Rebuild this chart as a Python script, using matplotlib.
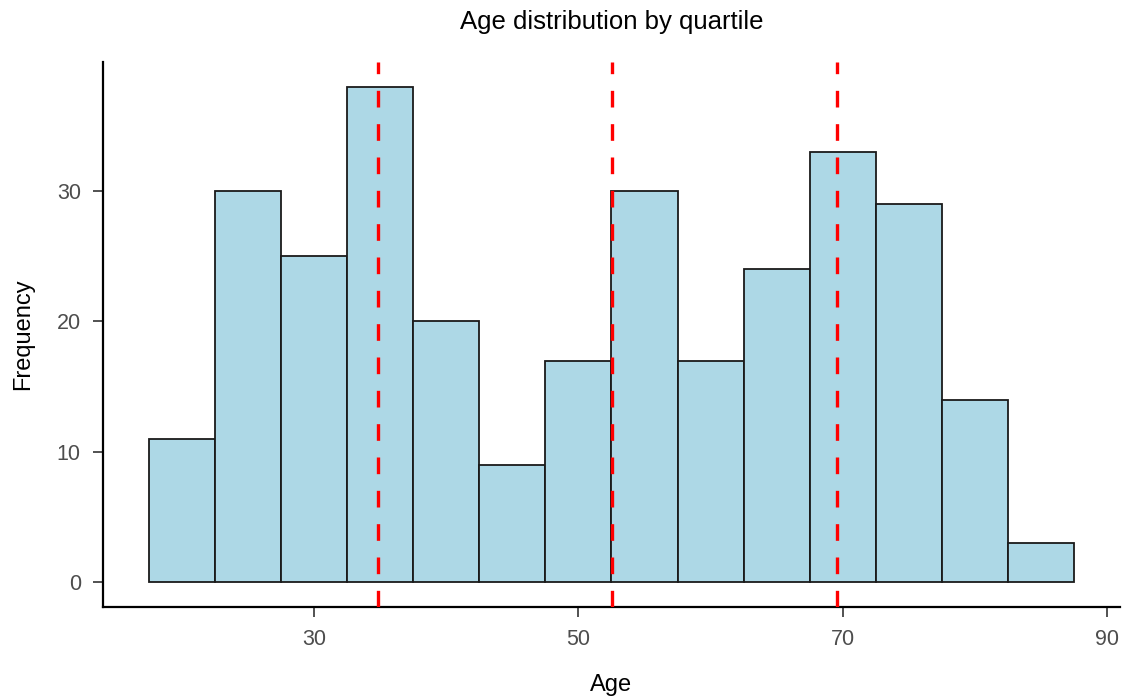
import matplotlib.pyplot as plt

plt.rcParams['font.family'] = ['Liberation Sans', 'DejaVu Sans']

# 直方图数据（每组宽度 5）
bin_centers = [20, 25, 30, 35, 40, 45, 50, 55, 60, 65, 70, 75, 80, 85]
counts = [11, 30, 25, 38, 20, 9, 17, 30, 17, 24, 33, 29, 14, 3]
bin_width = 5
quartiles = [34.8, 52.55, 69.55]

fig = plt.figure(figsize=(11.23, 6.98), dpi=100)
ax = fig.add_axes([0.0917, 0.1304, 0.9056, 0.7808])

ax.bar(bin_centers, counts, width=bin_width, color='#ADD8E6',
       edgecolor='#1a1a1a', linewidth=1.3, zorder=2)

for q in quartiles:
    ax.axvline(q, color='red', linewidth=2.4, dashes=(5.0, 5.0), zorder=3)

lo = bin_centers[0] - bin_width / 2
hi = bin_centers[-1] + bin_width / 2
span = hi - lo
ax.set_xlim(lo - 0.05 * span, hi + 0.05 * span)
ax.set_ylim(-0.05 * max(counts), max(counts) * 1.05)

ax.set_xticks([30, 50, 70, 90])
ax.set_yticks([0, 10, 20, 30])

for side in ['top', 'right']:
    ax.spines[side].set_visible(False)
for side in ['left', 'bottom']:
    ax.spines[side].set_linewidth(1.6)
    ax.spines[side].set_color('black')

ax.tick_params(length=7, width=1.2, color='#333333', labelcolor='#4D4D4D',
               labelsize=15.5, pad=9)

ax.set_xlabel('Age', fontsize=17, labelpad=17)
ax.set_ylabel('Frequency', fontsize=17, labelpad=16)
ax.set_title('Age distribution by quartile', fontsize=18.5, pad=24)

fig.savefig('out.png', dpi=100)
